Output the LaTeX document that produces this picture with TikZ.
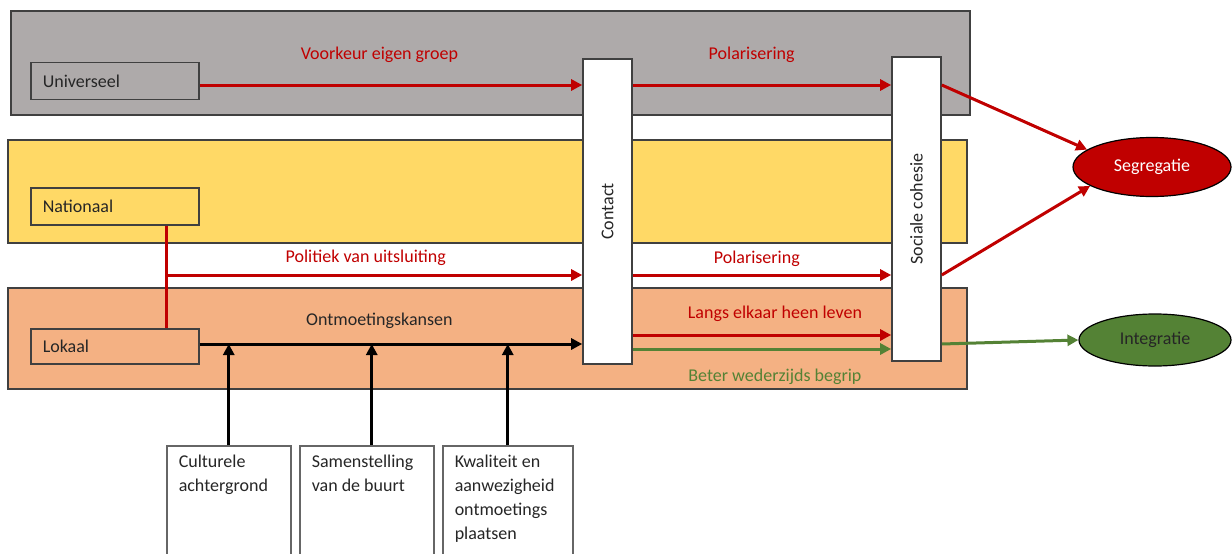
\documentclass[tikz,border=0pt]{standalone}
\usepackage{fontspec}
\setmainfont{Carlito}
\usepackage{graphicx}
\usepackage{tikz}
\usetikzlibrary{positioning}
\usetikzlibrary{shapes.geometric}
\usetikzlibrary{arrows.meta}
\definecolor{bandgrey}{HTML}{AEAAAA}
\definecolor{bandyellow}{HTML}{FFD966}
\definecolor{bandorange}{HTML}{F4B183}
\definecolor{segred}{HTML}{C00000}
\definecolor{intgreen}{HTML}{548235}
\definecolor{edgegrey}{HTML}{404040}
\definecolor{inktext}{HTML}{262626}
\tikzset{
    band/.style={draw=edgegrey, line width=1.2pt},
    levelbox/.style={draw=edgegrey, line width=1.6pt, anchor=west, minimum width=168pt, minimum height=37pt, text width=144pt, align=left, inner xsep=12pt, text=inktext},
    stagebox/.style={draw=edgegrey, line width=1.6pt, fill=white, minimum width=49pt, text=inktext},
    factorbox/.style={draw=edgegrey!80, line width=1.5pt, fill=white, anchor=north west, inner xsep=12pt, inner ysep=9pt, text=inktext},
    outcome/.style={ellipse, draw=black, line width=1.2pt},
    redarrow/.style={draw=segred, line width=3pt, -{Triangle[length=11pt,width=11pt]}},
    greenarrow/.style={draw=intgreen, line width=3pt, -{Triangle[length=11pt,width=11pt]}},
    blackarrow/.style={draw=black, line width=3pt, -{Triangle[length=11pt,width=11pt]}},
    redlabel/.style={text=segred},
}
\begin{document}
\begin{tikzpicture}[x=1pt, y=-1pt, every node/.style={font=\fontsize{18}{24}\selectfont}]
    \useasboundingbox (0,0) rectangle (1232,554);
    \clip (0,0) rectangle (1232,554);
    % levels
    \draw[band, fill=bandgrey]   (11,11)  rectangle (970,115);
    \draw[band, fill=bandyellow] (8,140)  rectangle (967,243);
    \draw[band, fill=bandorange] (8,288)  rectangle (967,389);

    \node (univ) [levelbox] at (30,81)    {Universeel};
    \node (nat)  [levelbox] at (30,206.5) {Nationaal};
    \node (lok)  [levelbox, minimum height=35pt] at (30,346.5) {Lokaal};

    \node (contact) [stagebox, minimum height=305pt] at (607.5,211.5) {\rotatebox{90}{Contact}};
    \node (soc)     [stagebox, minimum height=304pt] at (916.5,209)   {\rotatebox{90}{Sociale cohesie}};

    \node (seg)   [outcome, fill=segred, text=white, minimum width=158pt, minimum height=59pt] at (1152,167) {Segregatie};
    \node (integ) [outcome, fill=intgreen, text=inktext, minimum width=152pt, minimum height=52pt] at (1155,340) {Integratie};

    \node (cult)  [factorbox] at (166,445) {\parbox[b][104pt][t]{100pt}{\raggedright Culturele\\achtergrond}};
    \node (samen) [factorbox] at (299,445) {\parbox[b][104pt][t]{110pt}{\raggedright Samenstelling\\van de buurt}};
    \node (kwal)  [factorbox] at (442,445) {\parbox[b][104pt][t]{106pt}{\raggedright Kwaliteit en\\aanwezigheid\\ontmoetings\\plaatsen}};

    % rows
    \coordinate (toprow)   at (0,85);
    \coordinate (split)    at (166,275);
    \coordinate (langsrow) at (0,335);
    \coordinate (ontrow)   at (0,344);
    \coordinate (begriprow) at (0,349);

    \draw[redarrow] (univ.east |- toprow) -- (contact.west |- toprow)
        node[redlabel, pos=0.47, above=18pt] {Voorkeur eigen groep};
    \draw[redarrow] (contact.east |- toprow) -- (soc.west |- toprow)
        node[redlabel, pos=0.46, above=18pt] {Polarisering};

    \draw[segred, line width=3pt] (split |- nat.south) -- (split |- lok.north);
    \draw[redarrow] (split) -- (split -| contact.west)
        node[redlabel, pos=0.48, above=5pt] {Politiek van uitsluiting};
    \draw[redarrow] (contact.east |- split) -- (soc.west |- split)
        node[redlabel, pos=0.48, above=4pt] {Polarisering};

    \draw[blackarrow] (lok.east |- ontrow) -- (contact.west |- ontrow)
        node[text=inktext, pos=0.47, above=11pt] {Ontmoetingskansen};
    \draw[redarrow] (contact.east |- langsrow) -- (soc.west |- langsrow)
        node[redlabel, pos=0.55, above=9pt] {Langs elkaar heen leven};
    \draw[greenarrow] (contact.east |- begriprow) -- (soc.west |- begriprow)
        node[text=intgreen, pos=0.55, below=15pt] {Beter wederzijds begrip};

    \draw[redarrow] (soc.east |- toprow) -- (seg.165);
    \draw[redarrow] (soc.east |- split) -- (seg.197);
    \draw[greenarrow] (soc.east |- ontrow) -- (integ.west);

    \draw[blackarrow] (cult.north) -- (cult.north |- ontrow);
    \draw[blackarrow] ([xshift=5pt]samen.north) -- ([xshift=5pt]samen.north |- ontrow);
    \draw[blackarrow] (kwal.north) -- (kwal.north |- ontrow);
\end{tikzpicture}
\end{document}
